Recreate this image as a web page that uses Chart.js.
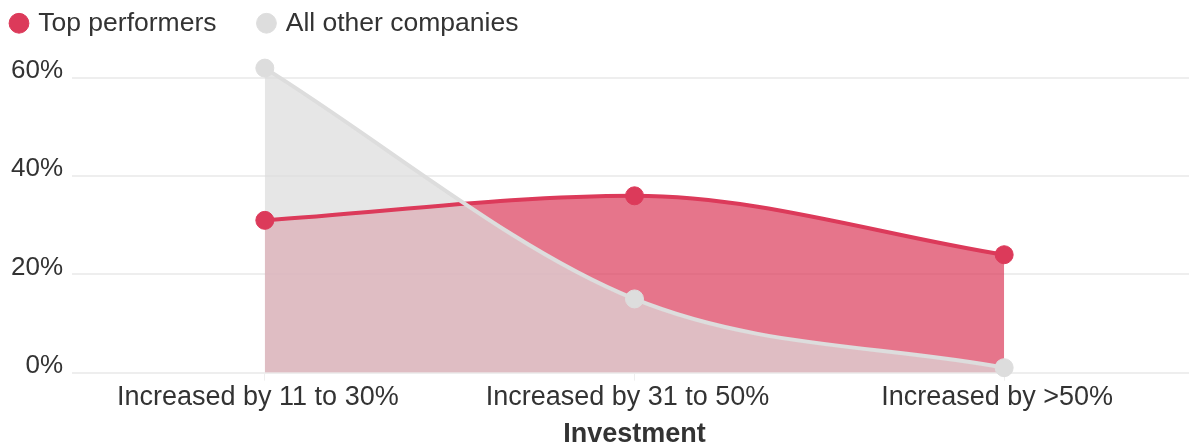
<!DOCTYPE html>
<html lang="en">
<head>
<meta charset="utf-8"/>
<title>Investment – Top performers vs all other companies</title>
<script src="https://cdn.jsdelivr.net/npm/chart.js"></script>
<style>
  body {
    margin: 0;
    background: #ffffff;
  }
  .wrap {
    width: 1189px;
    height: 448px;
    position: relative;
  }
</style>
</head>
<body>
<div class="wrap">
  <canvas id="grafico"></canvas>
</div>

<script>
  const categorias = ['Increased by 11 to 30%', 'Increased by 31 to 50%', 'Increased by >50%'];
  const topPerformers = [31, 36, 24];
  const outrasEmpresas = [62, 15, 1];
  const yTicks = [0, 20, 40, 60];

  const vermelho = '#dc3a5a';
  const cinza = '#dddddd';
  const fonte = "'Liberation Sans', Arial, sans-serif";

  Chart.defaults.font.family = fonte;
  Chart.defaults.color = '#333333';

  const ctx = document.getElementById('grafico').getContext('2d');

  new Chart(ctx, {
    type: 'line',
    data: {
      labels: categorias,
      datasets: [
        {
          label: 'All other companies',
          data: outrasEmpresas,
          borderColor: cinza,
          backgroundColor: 'rgba(220,220,220,0.7)',
          pointBackgroundColor: cinza,
          pointBorderColor: cinza,
          borderWidth: 4,
          pointRadius: 9,
          pointBorderWidth: 1,
          fill: 'origin',
          cubicInterpolationMode: 'monotone',
          clip: false
        },
        {
          label: 'Top performers',
          data: topPerformers,
          borderColor: vermelho,
          backgroundColor: 'rgba(220,58,90,0.7)',
          pointBackgroundColor: vermelho,
          pointBorderColor: vermelho,
          borderWidth: 4,
          pointRadius: 9,
          pointBorderWidth: 1,
          fill: 'origin',
          cubicInterpolationMode: 'monotone',
          clip: false
        }
      ]
    },
    options: {
      responsive: true,
      maintainAspectRatio: false,
      animation: false,
      layout: {
        autoPadding: false,
        padding: { top: -34, left: -31, right: 0, bottom: 0 }
      },
      plugins: {
        filler: { drawTime: 'beforeDatasetsDraw' },
        legend: {
          position: 'top',
          align: 'start',
          reverse: true,
          labels: {
            usePointStyle: true,
            pointStyle: 'circle',
            boxWidth: 12,
            boxHeight: 14,
            padding: 44,
            font: { size: 26.5 },
            color: '#333333'
          }
        },
        tooltip: { enabled: false }
      },
      scales: {
        x: {
          offset: true,
          grid: {
            drawOnChartArea: false,
            drawTicks: true,
            tickLength: 8,
            color: '#eeeeee'
          },
          border: { display: true, color: '#eeeeee', width: 2 },
          ticks: {
            font: { size: 27 },
            padding: 1,
            labelOffset: -7,
            maxRotation: 0,
            color: '#333333'
          },
          title: {
            display: true,
            text: 'Investment',
            font: { size: 27, weight: 'bold', lineHeight: 1 },
            padding: { top: 6, bottom: 0 },
            color: '#333333'
          }
        },
        y: {
          min: 0,
          max: 66.4,
          afterBuildTicks: s => {
            s.ticks = yTicks.map(v => ({ value: v }));
          },
          afterFit: s => {
            s.width = 111;
          },
          grid: {
            color: '#eeeeee',
            lineWidth: 2,
            tickLength: 8
          },
          border: { display: false },
          ticks: {
            font: { size: 26 },
            padding: 9,
            labelOffset: -7,
            color: '#333333',
            callback: v => v + '%'
          }
        }
      }
    }
  });
</script>
</body>
</html>
